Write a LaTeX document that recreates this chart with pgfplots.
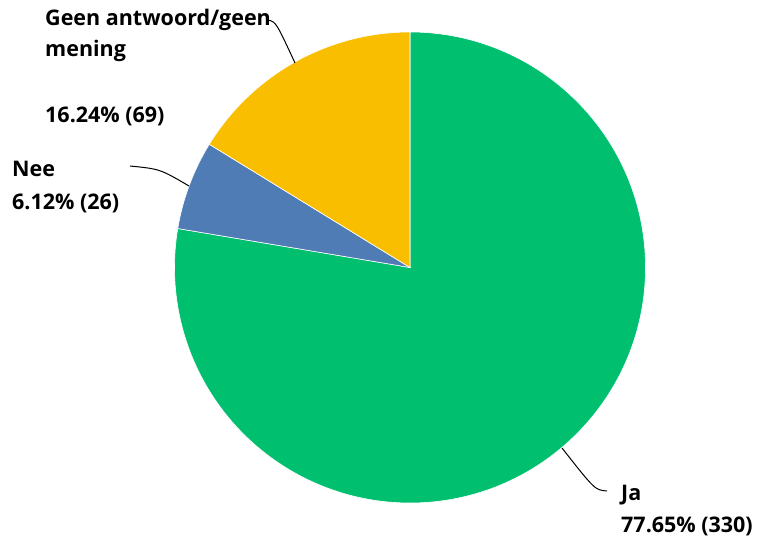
\documentclass[border=0pt]{standalone}
\usepackage{pgfplots}
\pgfplotsset{compat=1.18}
\usepackage{fontspec}
\setmainfont{Open Sans}
\definecolor{jagreen}{HTML}{00BF6F}
\definecolor{neeblue}{HTML}{507CB6}
\definecolor{geenyellow}{HTML}{F9BE00}
\begin{document}
\begin{tikzpicture}
\pgfmathsetmacro{\vJa}{330}
\pgfmathsetmacro{\vNee}{26}
\pgfmathsetmacro{\vGeen}{69}
\pgfmathsetmacro{\tot}{\vJa+\vNee+\vGeen}
\pgfmathsetmacro{\aA}{90}
\pgfmathsetmacro{\aB}{90-\vJa/\tot*360}
\pgfmathsetmacro{\aC}{\aB-\vNee/\tot*360}
\pgfmathsetmacro{\aD}{\aC-\vGeen/\tot*360}
\def\R{235.5pt}
\begin{axis}[
  width=761pt, height=539pt, scale only axis,
  xmin=0, xmax=761, ymin=0, ymax=539,
  hide axis, clip=false,
]
\addplot[draw=none, forget plot] coordinates {(0,0) (761,539)};
\fill[jagreen, draw=white, line width=0.6pt] (axis cs:410,271.5) -- ++(\aA:\R) arc[start angle=\aA, end angle=\aB, radius=\R] -- cycle;
\fill[neeblue, draw=white, line width=0.6pt] (axis cs:410,271.5) -- ++(\aB:\R) arc[start angle=\aB, end angle=\aC, radius=\R] -- cycle;
\fill[geenyellow, draw=white, line width=0.6pt] (axis cs:410,271.5) -- ++(\aC:\R) arc[start angle=\aC, end angle=\aD, radius=\R] -- cycle;
% leader lines
\draw[black, line width=1pt] (axis cs:268,519) .. controls (axis cs:276,517) .. (axis cs:295,476);
\draw[black, line width=1pt] (axis cs:130,373) .. controls (axis cs:160,370) .. (axis cs:189,353);
\draw[black, line width=1pt] (axis cs:607,48) .. controls (axis cs:595,49) .. (axis cs:562,91);
% labels
\tikzset{lab/.style={anchor=base west, inner sep=0pt, font=\fontsize{21.5}{25}\selectfont\bfseries}}
\node[lab] at (axis cs:45,513) {Geen antwoord/geen};
\node[lab] at (axis cs:45,482) {mening};
\node[lab] at (axis cs:45,416) {16.24\% (69)};
\node[lab] at (axis cs:12,362) {Nee};
\node[lab] at (axis cs:12,329) {6.12\% (26)};
\node[lab] at (axis cs:621,39) {Ja};
\node[lab] at (axis cs:621,7) {77.65\% (330)};
\end{axis}
\end{tikzpicture}
\end{document}
